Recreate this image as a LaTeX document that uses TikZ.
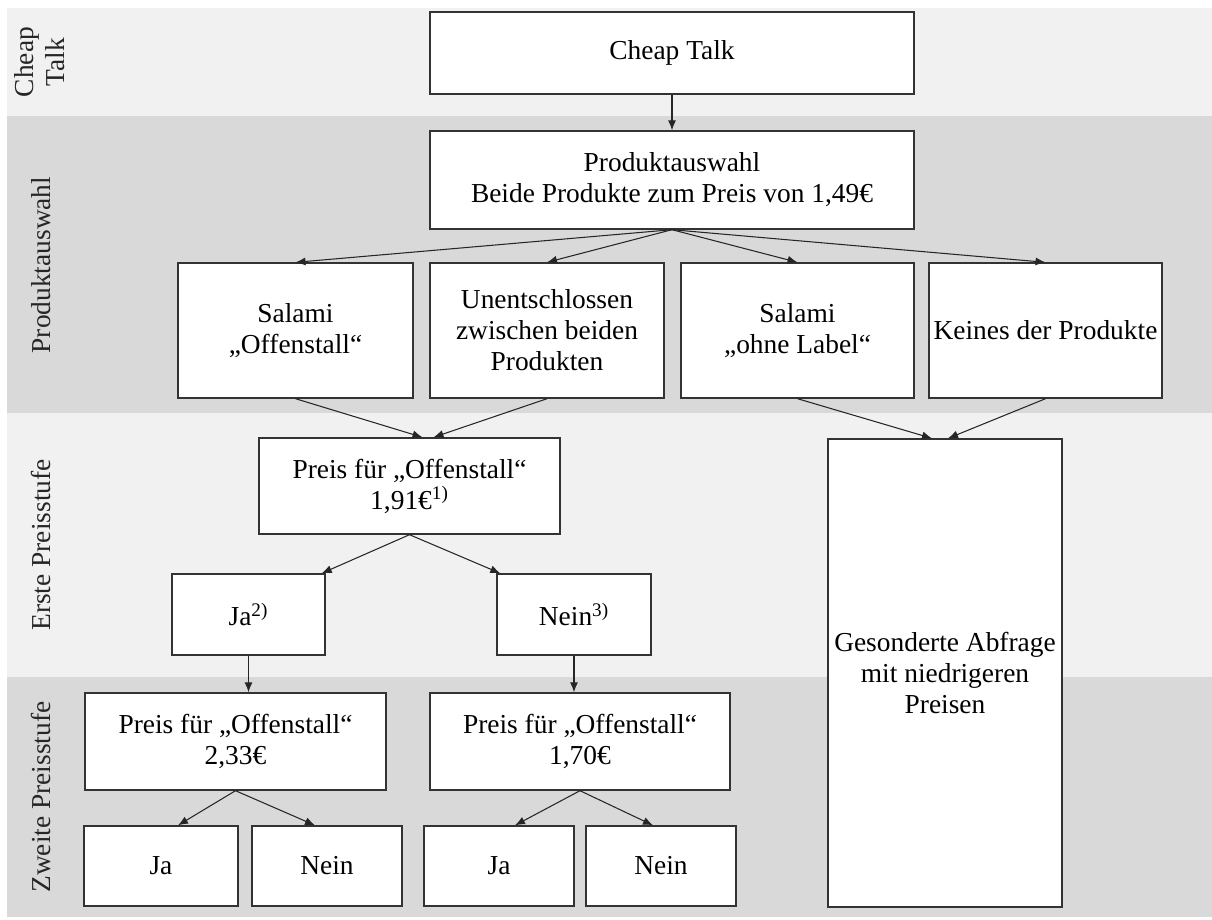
\documentclass[tikz,border=0pt]{standalone}
\usepackage{fontspec}
\setmainfont{Liberation Serif}
\usetikzlibrary{arrows.meta}

\definecolor{hell}{HTML}{F1F1F1}
\definecolor{dunkel}{HTML}{D9D9D9}

\begin{document}
\begin{tikzpicture}[x=0.02cm, y=-0.02cm, >={Latex[length=2mm, width=1.6mm]},
	box/.style={draw=black!80, line width=0.8pt, fill=white, align=center, inner sep=1pt, font=\fontsize{15.6}{17.6}\selectfont},
	stufe/.style={rotate=90, align=center, text=black!85, font=\fontsize{15.6}{17.6}\selectfont},
	pfeil/.style={->, draw=black!85, line width=0.6pt}]
	% \band#ytop#ybottom#color
	\def\band#1#2#3{
		\fill[#3] (7, #1) rectangle (1212, #2);
	}
	
	\useasboundingbox (0, 0) rectangle (1212, 919);
	
	% bands
	\band{8}{116}{hell}
	\band{116}{413}{dunkel}
	\band{413}{677}{hell}
	\band{677}{917}{dunkel}
	
	\node[stufe] (tCheap) at (40, 62) {Cheap\\Talk};
	\node[stufe] (tProd) at (41, 265) {Produktauswahl};
	\node[stufe] (tErste) at (41, 545) {Erste Preisstufe};
	\node[stufe] (tZweite) at (41, 797) {Zweite Preisstufe};
	
	% cheap talk and product choice
	\node[box, minimum width=9.68cm, minimum height=1.64cm] (cheap) at (672, 53) {Cheap Talk};
	\node[box, minimum width=9.68cm, minimum height=1.96cm] (prod) at (672, 180) {Produktauswahl\\Beide Produkte zum Preis von 1,49€};
	
	\node[box, minimum width=4.7cm, minimum height=2.7cm] (salOff) at (295.5, 330.5) {Salami\\„Offenstall“};
	\node[box, minimum width=4.68cm, minimum height=2.7cm] (unent) at (547, 330.5) {Unentschlossen\\zwischen beiden\\Produkten};
	\node[box, minimum width=4.66cm, minimum height=2.7cm] (salOhne) at (797.5, 330.5) {Salami\\„ohne Label“};
	\node[box, minimum width=4.66cm, minimum height=2.7cm] (keines) at (1045.5, 330.5) {Keines der Produkte};
	
	% first price level
	\node[box, minimum width=6.02cm, minimum height=1.92cm] (preisA) at (409.5, 486) {Preis für „Offenstall“\\1,91€\textsuperscript{1)}};
	\node[box, minimum width=3.06cm, minimum height=1.62cm] (jaA) at (248.5, 614.5) {Ja\textsuperscript{2)}};
	\node[box, minimum width=3.08cm, minimum height=1.62cm] (neinA) at (574, 614.5) {Nein\textsuperscript{3)}};
	
	\node[box, minimum width=4.68cm, minimum height=9.36cm] (ges) at (945, 673) {Gesonderte Abfrage\\mit niedrigeren\\Preisen};
	
	% second price level
	\node[box, minimum width=6.02cm, minimum height=1.94cm] (preisB) at (235.5, 741.5) {Preis für „Offenstall“\\2,33€};
	\node[box, minimum width=6cm, minimum height=1.94cm] (preisC) at (580, 741.5) {Preis für „Offenstall“\\1,70€};
	
	\node[box, minimum width=3.08cm, minimum height=1.6cm] (jaB) at (161, 866) {Ja};
	\node[box, minimum width=3cm, minimum height=1.6cm] (neinB) at (327, 866) {Nein};
	\node[box, minimum width=3cm, minimum height=1.6cm] (jaC) at (499, 866) {Ja};
	\node[box, minimum width=3cm, minimum height=1.6cm] (neinC) at (661, 866) {Nein};
	
	% arrows
	\draw[pfeil] (cheap.south) -- (prod.north);
	\foreach \ziel in {salOff, unent, salOhne, keines} {
		\draw[pfeil] (prod.south) -- (\ziel.north);
	}
	\draw[pfeil] (salOff.south) -- ([xshift=0.26cm]preisA.north);
	\draw[pfeil] (unent.south) -- ([xshift=0.48cm]preisA.north);
	\draw[pfeil] (salOhne.south) -- ([xshift=-0.26cm]ges.north);
	\draw[pfeil] (keines.south) -- ([xshift=0.06cm]ges.north);
	
	\draw[pfeil] (preisA.south) -- ([xshift=-0.08cm]jaA.north east);
	\draw[pfeil] (preisA.south) -- ([xshift=0.08cm]neinA.north west);
	\draw[pfeil] (jaA.south) -- (jaA.south |- preisB.north);
	\draw[pfeil] (neinA.south) -- (neinA.south |- preisC.north);
	
	\draw[pfeil] (preisB.south) -- ([xshift=0.34cm]jaB.north);
	\draw[pfeil] (preisB.south) -- ([xshift=-0.24cm]neinB.north);
	\draw[pfeil] (preisC.south) -- ([xshift=0.32cm]jaC.north);
	\draw[pfeil] (preisC.south) -- ([xshift=-0.16cm]neinC.north);
\end{tikzpicture}
\end{document}
